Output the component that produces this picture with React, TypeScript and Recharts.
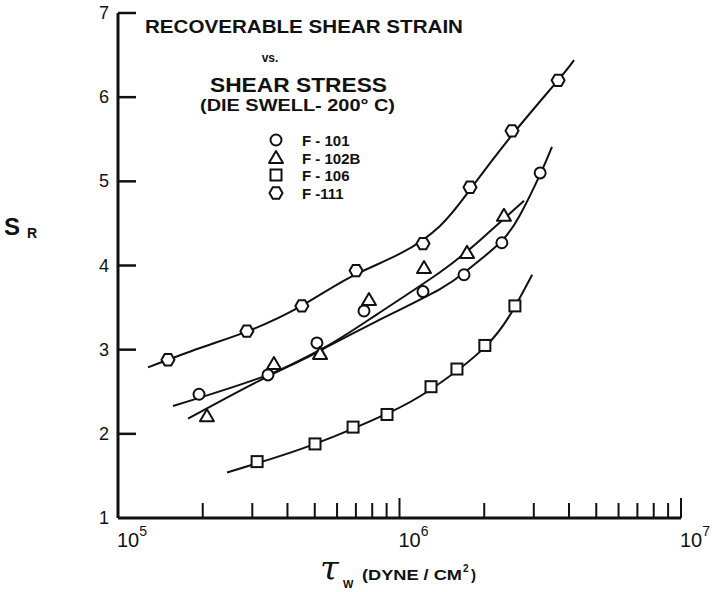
import React from "react";
import { ComposedChart, Line, Scatter, XAxis, YAxis } from "recharts";

// ---- data ----
const xTicks = [1e5, 2e5, 3e5, 4e5, 5e5, 6e5, 7e5, 8e5, 9e5, 1e6, 2e6, 3e6, 4e6, 5e6, 6e6, 7e6, 8e6, 9e6, 1e7];
const majorTicks = [1e5, 1e6, 1e7];
const majorExp: Record<number, string> = { 100000: "5", 1000000: "6", 10000000: "7" };
const yTicks = [1, 2, 3, 4, 5, 6, 7];

const f101Points = [
  { x: 1.94e5, y: 2.47 }, { x: 3.41e5, y: 2.7 }, { x: 5.09e5, y: 3.08 }, { x: 7.48e5, y: 3.46 },
  { x: 1.212e6, y: 3.69 }, { x: 1.695e6, y: 3.89 }, { x: 2.31e6, y: 4.27 }, { x: 3.16e6, y: 5.1 },
];
const f102bPoints = [
  { x: 2.07e5, y: 2.21 }, { x: 3.58e5, y: 2.83 }, { x: 5.22e5, y: 2.95 }, { x: 7.79e5, y: 3.59 },
  { x: 1.222e6, y: 3.97 }, { x: 1.737e6, y: 4.15 }, { x: 2.35e6, y: 4.59 },
];
const f106Points = [
  { x: 3.12e5, y: 1.67 }, { x: 5.01e5, y: 1.88 }, { x: 6.84e5, y: 2.08 }, { x: 9.03e5, y: 2.23 },
  { x: 1.294e6, y: 2.56 }, { x: 1.6e6, y: 2.77 }, { x: 2.01e6, y: 3.05 }, { x: 2.57e6, y: 3.52 },
];
const f111Points = [
  { x: 1.505e5, y: 2.88 }, { x: 2.87e5, y: 3.22 }, { x: 4.5e5, y: 3.52 }, { x: 7.01e5, y: 3.94 },
  { x: 1.212e6, y: 4.26 }, { x: 1.78e6, y: 4.93 }, { x: 2.51e6, y: 5.6 }, { x: 3.66e6, y: 6.2 },
];

// fitted curves as drawn in the reference
const f101Curve = [
  { x: 1.568e5, y: 2.33 }, { x: 3.41e5, y: 2.7 }, { x: 5.44e5, y: 3.02 }, { x: 8.32e5, y: 3.34 },
  { x: 1.393e6, y: 3.72 }, { x: 1.78e6, y: 3.97 }, { x: 2.275e6, y: 4.27 }, { x: 2.68e6, y: 4.6 },
  { x: 3.156e6, y: 5.08 }, { x: 3.48e6, y: 5.41 },
];
const f102bCurve = [
  { x: 1.773e5, y: 2.18 }, { x: 3.17e5, y: 2.63 }, { x: 5.44e5, y: 3.03 }, { x: 8.32e5, y: 3.42 },
  { x: 1.393e6, y: 3.92 }, { x: 1.932e6, y: 4.3 }, { x: 2.77e6, y: 4.77 },
];
const f106Curve = [
  { x: 2.44e5, y: 1.54 }, { x: 3.12e5, y: 1.65 }, { x: 5.01e5, y: 1.88 }, { x: 9.03e5, y: 2.24 },
  { x: 1.294e6, y: 2.53 }, { x: 2.01e6, y: 3.03 }, { x: 2.57e6, y: 3.51 }, { x: 2.96e6, y: 3.89 },
];
const f111Curve = [
  { x: 1.278e5, y: 2.79 }, { x: 1.956e5, y: 3.02 }, { x: 2.944e5, y: 3.23 }, { x: 4.43e5, y: 3.51 },
  { x: 6.67e5, y: 3.86 }, { x: 1.004e6, y: 4.14 }, { x: 1.393e6, y: 4.47 }, { x: 1.78e6, y: 4.9 },
  { x: 2.51e6, y: 5.55 }, { x: 3.656e6, y: 6.2 }, { x: 4.17e6, y: 6.44 },
];

const legendLabels = ["F - 101", "F - 102B", "F - 106", "F -111"];
const titleLines = ["RECOVERABLE  SHEAR  STRAIN", "vs.", "SHEAR  STRESS", "(DIE  SWELL- 200° C)"];

const INK = "#111";
const FONT = "'Liberation Sans', 'DejaVu Sans', sans-serif";

// ---- marker shapes ----
const CircleShape = (p: any) => (
  <circle cx={p.cx} cy={p.cy} r={5.5} fill="#fff" stroke={INK} strokeWidth={2} />
);
const TriangleShape = (p: any) => (
  <polygon
    points={`${p.cx},${p.cy - 7} ${p.cx - 7},${p.cy + 5} ${p.cx + 7},${p.cy + 5}`}
    fill="#fff" stroke={INK} strokeWidth={2} strokeLinejoin="round"
  />
);
const SquareShape = (p: any) => (
  <rect x={p.cx - 5.5} y={p.cy - 5.5} width={11} height={11} fill="#fff" stroke={INK} strokeWidth={2} />
);
const HexShape = (p: any) => {
  const r = 6.5;
  const h = r * 0.87;
  return (
    <polygon
      points={`${p.cx - r},${p.cy} ${p.cx - r / 2},${p.cy - h} ${p.cx + r / 2},${p.cy - h} ${p.cx + r},${p.cy} ${p.cx + r / 2},${p.cy + h} ${p.cx - r / 2},${p.cy + h}`}
      fill="#fff" stroke={INK} strokeWidth={2}
    />
  );
};

// ---- ticks ----
const YTick = (p: any) => {
  const { x, y, payload } = p;
  return (
    <g>
      {payload.value !== 1 && (
        <line x1={x} x2={x + 18} y1={y} y2={y} stroke={INK} strokeWidth={2.5} />
      )}
      <text x={x - 9} y={y} textAnchor="end" dominantBaseline="central" fontSize={18}
        fontFamily={FONT} fill={INK}>
        {payload.value}
      </text>
    </g>
  );
};

const XTick = (p: any) => {
  const { x, y, payload } = p;
  const v = payload.value;
  const isMajor = majorTicks.includes(v);
  return (
    <g>
      {v !== 1e5 && (
        <line x1={x} x2={x} y1={y} y2={y - (isMajor ? 20 : 15)} stroke={INK} strokeWidth={2} />
      )}
      {isMajor && (
        <text x={x - 1} y={y + 29} fontSize={20} fontFamily={FONT} fill={INK}>
          10
          <tspan fontSize={14} dy={-11}>{majorExp[v]}</tspan>
        </text>
      )}
    </g>
  );
};

const legendShapes = [CircleShape, TriangleShape, SquareShape, HexShape];
const legendRowsY = [140, 158, 175, 193];

export default function App() {
  return (
    <div style={{ position: "absolute", left: 0, top: 0, width: 712, height: 592, background: "#fff" }}>
      <ComposedChart
        width={712}
        height={592}
        margin={{ top: 13, right: 31, bottom: 44, left: 78 }}
      >
        <XAxis
          dataKey="x"
          type="number"
          scale="log"
          domain={[1e5, 1e7]}
          ticks={xTicks}
          allowDataOverflow
          height={30}
          tickSize={0}
          tickMargin={0}
          tickLine={false}
          tick={<XTick />}
          axisLine={{ stroke: INK, strokeWidth: 3 }}
          interval={0}
        />
        <YAxis
          dataKey="y"
          type="number"
          domain={[1, 7]}
          ticks={yTicks}
          allowDataOverflow
          width={40}
          tickSize={0}
          tickMargin={0}
          tickLine={false}
          tick={<YTick />}
          axisLine={{ stroke: INK, strokeWidth: 3 }}
          interval={0}
        />
        <Line data={f111Curve} dataKey="y" type="natural" stroke={INK} strokeWidth={2} dot={false} isAnimationActive={false} />
        <Line data={f101Curve} dataKey="y" type="natural" stroke={INK} strokeWidth={2} dot={false} isAnimationActive={false} />
        <Line data={f102bCurve} dataKey="y" type="natural" stroke={INK} strokeWidth={2} dot={false} isAnimationActive={false} />
        <Line data={f106Curve} dataKey="y" type="natural" stroke={INK} strokeWidth={2} dot={false} isAnimationActive={false} />
        <Scatter data={f111Points} dataKey="y" shape={HexShape} isAnimationActive={false} />
        <Scatter data={f101Points} dataKey="y" shape={CircleShape} isAnimationActive={false} />
        <Scatter data={f102bPoints} dataKey="y" shape={TriangleShape} isAnimationActive={false} />
        <Scatter data={f106Points} dataKey="y" shape={SquareShape} isAnimationActive={false} />
      </ComposedChart>
      <svg
        width={712}
        height={592}
        style={{ position: "absolute", left: 0, top: 0, pointerEvents: "none" }}
      >
        <text x={145} y={33} fontSize={18} fontWeight="bold" fontFamily={FONT} fill={INK}
          textLength={318} lengthAdjust="spacingAndGlyphs">{titleLines[0]}</text>
        <text x={270} y={62} fontSize={12} fontWeight="bold" fontFamily={FONT} fill={INK}
          textAnchor="middle">{titleLines[1]}</text>
        <text x={210} y={92} fontSize={21} fontWeight="bold" fontFamily={FONT} fill={INK}
          textLength={177} lengthAdjust="spacingAndGlyphs">{titleLines[2]}</text>
        <text x={200} y={111} fontSize={17} fontWeight="bold" fontFamily={FONT} fill={INK}
          textLength={195} lengthAdjust="spacingAndGlyphs">{titleLines[3]}</text>
        {legendLabels.map((lab, i) => {
          const Shape = legendShapes[i];
          return (
            <g key={lab}>
              <Shape cx={276} cy={legendRowsY[i]} />
              <text x={302} y={legendRowsY[i]} dominantBaseline="central" fontSize={15}
                fontWeight="bold" fontFamily={FONT} fill={INK}>{lab}</text>
            </g>
          );
        })}
        <text x={4} y={235} fontSize={24} fontFamily={FONT} fill={INK} fontWeight="bold">S</text>
        <text x={27} y={238} fontSize={14} fontFamily={FONT} fill={INK} fontWeight="bold">R</text>
        <text x={320} y={580} fontSize={34} fontFamily="'DejaVu Serif', serif" fontStyle="italic" fill={INK}>τ</text>
        <text x={343} y={588} fontSize={11} fontFamily={FONT} fill={INK} fontWeight="bold">W</text>
        <text x={362} y={580} fontSize={15} fontFamily={FONT} fill={INK} fontWeight="bold"
          textLength={100} lengthAdjust="spacingAndGlyphs">(DYNE / CM</text>
        <text x={463} y={572} fontSize={10} fontFamily={FONT} fill={INK} fontWeight="bold">2</text>
        <text x={471} y={580} fontSize={15} fontFamily={FONT} fill={INK} fontWeight="bold">)</text>
      </svg>
    </div>
  );
}
